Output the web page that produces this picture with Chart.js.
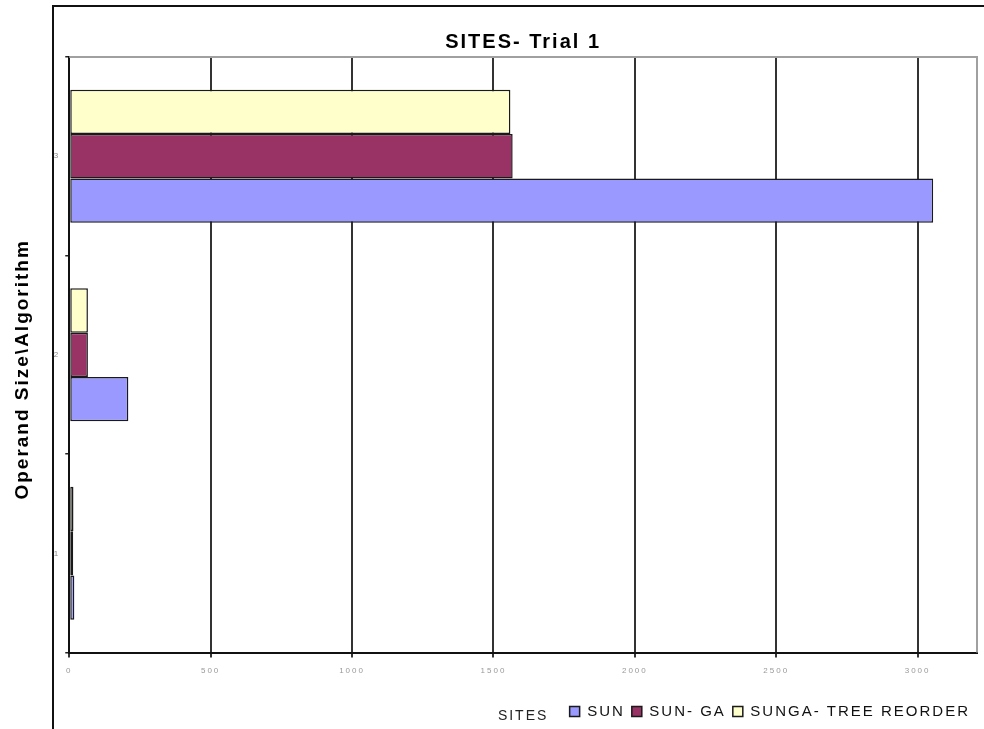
<!DOCTYPE html>
<html>
<head>
<meta charset="utf-8">
<title>SITES- Trial 1</title>
<script src="https://cdn.jsdelivr.net/npm/chart.js@4.4.1/dist/chart.umd.min.js"></script>
<style>
  html, body { margin: 0; padding: 0; background: #fff; }
  #wrap { position: relative; width: 984px; height: 729px; overflow: hidden; }
  #frame { position: absolute; left: 52px; top: 5px; right: -2px; bottom: -2px; border-top: 2px solid #111; border-left: 2px solid #111; }
  #grafico { position: absolute; left: 0; top: 0; }
</style>
</head>
<body>
<div id="wrap">
  <div id="frame"></div>
  <canvas id="grafico" width="984" height="729"></canvas>
</div>
<script>
// Dados do gráfico
const categorias = ['1', '2', '3'];
const sun = [18, 209, 3055];
const sunGa = [14, 66, 1568];
const sungaTree = [15, 66, 1560];
const xTicks = [0, 500, 1000, 1500, 2000, 2500, 3000];

const fonte = "'Liberation Sans', Arial, sans-serif";

// Texto um pouco espaçado, como no original
const espacamento = {
    id: 'espacamento',
    beforeLayout(chart) { chart.ctx.letterSpacing = '2px'; },
    beforeDraw(chart) { chart.ctx.letterSpacing = '2px'; }
};

// Borda cinza em cima e à direita da área do gráfico
const bordaArea = {
    id: 'bordaArea',
    beforeDatasetsDraw(chart) {
        const { ctx, chartArea: a } = chart;
        ctx.save();
        ctx.strokeStyle = '#a0a0a0';
        ctx.lineWidth = 2;
        ctx.beginPath();
        ctx.moveTo(a.left, a.top);
        ctx.lineTo(a.right, a.top);
        ctx.lineTo(a.right, a.bottom);
        ctx.stroke();
        ctx.restore();
    }
};

const ctx = document.getElementById('grafico').getContext('2d');

new Chart(ctx, {
    type: 'bar',
    data: {
        labels: categorias,
        datasets: [
            { label: 'SUNGA- TREE REORDER', data: sungaTree, backgroundColor: '#ffffcc' },
            { label: 'SUN- GA', data: sunGa, backgroundColor: '#993366' },
            { label: 'SUN', data: sun, backgroundColor: '#9999ff' }
        ].map(ds => ({ ...ds, borderColor: '#1a1a1a', borderWidth: 1.5, borderSkipped: false,
                       categoryPercentage: 0.67, barPercentage: 1 }))
    },
    options: {
        indexAxis: 'y',
        responsive: false,
        animation: false,
        layout: { padding: { top: 0, right: 7, bottom: 0, left: 0 } },
        scales: {
            x: {
                min: 0,
                max: 3210,
                afterBuildTicks: (scale) => { scale.ticks = xTicks.map(v => ({ value: v })); },
                grid: { color: '#333', lineWidth: 2, tickLength: 5 },
                border: { color: '#111', width: 2 },
                ticks: {
                    color: '#999',
                    font: { size: 8, family: fonte },
                    padding: 8,
                    maxRotation: 0,
                    callback: (v) => String(v)
                },
                title: {
                    display: true,
                    text: 'SITES',
                    color: '#222',
                    font: { size: 14, family: fonte },
                    padding: { top: 25, bottom: -28 }
                }
            },
            y: {
                reverse: true,
                grid: { drawOnChartArea: false, color: '#222', lineWidth: 1.5, tickLength: 4 },
                border: { color: '#111', width: 2 },
                ticks: { color: '#888', font: { size: 8, family: fonte }, padding: 5 },
                title: {
                    display: true,
                    text: 'Operand Size\\Algorithm    ',
                    color: '#000',
                    font: { size: 19, weight: 'bold', family: fonte },
                    padding: { top: 11, bottom: 15 }
                }
            }
        },
        plugins: {
            title: {
                display: true,
                text: 'SITES- Trial 1',
                color: '#000',
                fullSize: false,
                font: { size: 20, weight: 'bold', family: fonte },
                padding: { top: 30, bottom: 3 }
            },
            legend: {
                position: 'bottom',
                align: 'end',
                reverse: true,
                labels: {
                    boxWidth: 10,
                    boxHeight: 10,
                    padding: 7,
                    color: '#111',
                    font: { size: 15, family: fonte }
                }
            },
            tooltip: { enabled: false }
        }
    },
    plugins: [espacamento, bordaArea]
});
</script>
</body>
</html>
